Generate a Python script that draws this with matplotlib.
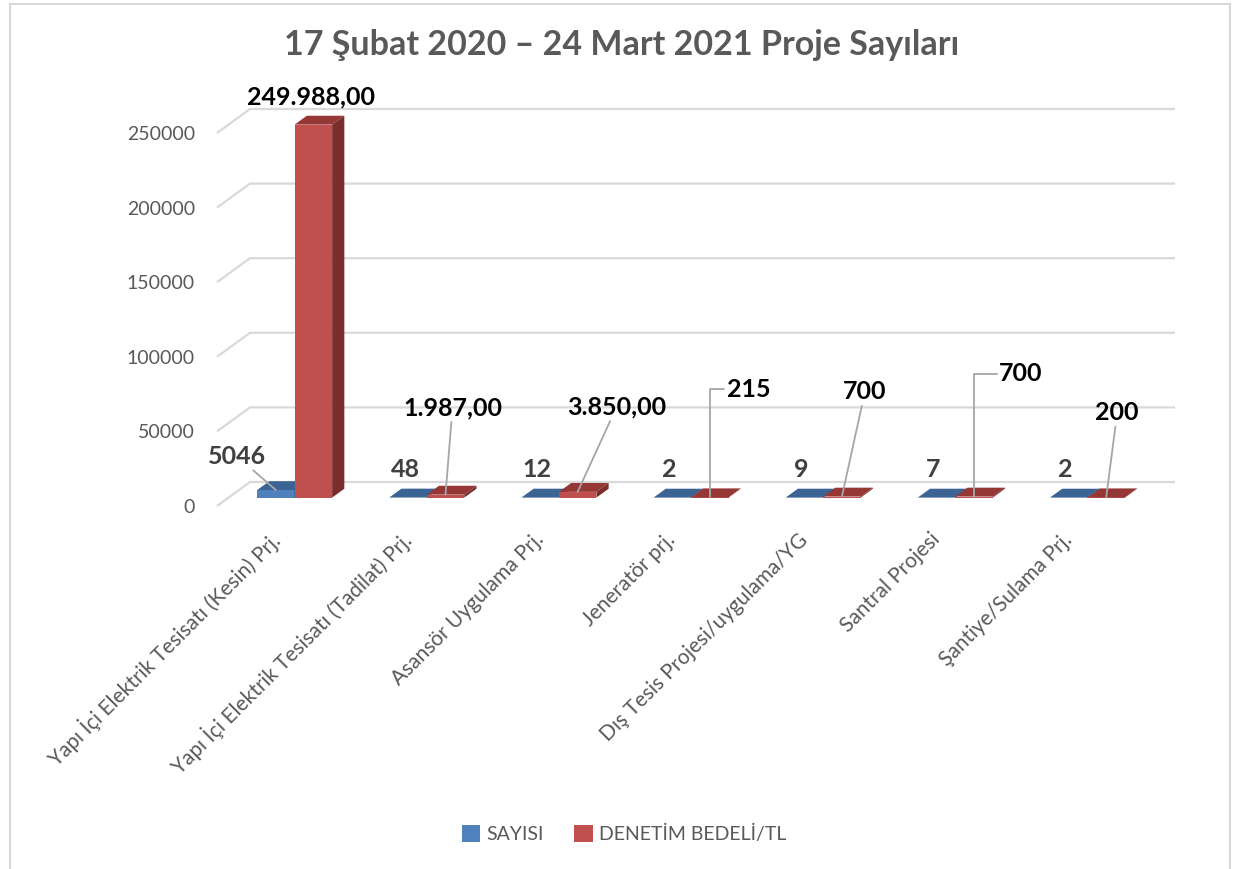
import numpy as np
import matplotlib.pyplot as plt
import matplotlib.transforms as mtransforms
from matplotlib.patches import Polygon, Rectangle, Patch

# Lato is the closest match to Calibri here
plt.rcParams['font.family'] = ['Lato', 'DejaVu Sans']

# data
categories = ['Yapı İçi Elektrik Tesisatı (Kesin) Prj.',
              'Yapı İçi Elektrik Tesisatı (Tadilat) Prj.',
              'Asansör Uygulama Prj.',
              'Jeneratör prj.',
              'Dış Tesis Projesi/uygulama/YG',
              'Santral Projesi',
              'Şantiye/Sulama Prj.']
sayisi = [5046, 48, 12, 2, 9, 7, 2]
denetim = [249988, 1987, 3850, 215, 700, 700, 200]
denetim_text = ['249.988,00', '1.987,00', '3.850,00', '215', '700', '700', '200']
y_ticks = [0, 50000, 100000, 150000, 200000, 250000]

# label placement (pixels, relative to the bar's front top edge)
blue_offsets = [(-39, 34), (-3, 28), (-3, 28), (-3, 28), (-3, 28), (-3, 28), (-3, 28)]
blue_leader = [True, False, False, False, False, False, False]
red_offsets = [(-2, 28), (7, 87), (39, 85), (39, 108), (23, 105), (47, 123), (11, 85)]
red_leader = [None, 'arc3', 'arc3', 'angle,angleA=0,angleB=90,rad=0', 'arc3',
              'angle,angleA=0,angleB=90,rad=0', 'arc3']

W, H = 1233, 869
fig = plt.figure(figsize=(W / 100, H / 100), dpi=100)
fig.patch.set_facecolor('white')

# axes = front edge of the 3d floor
left_px, right_px, top_px, bot_px = 217, 1142, 133, 506
ax = fig.add_axes([left_px / W, 1 - bot_px / H, (right_px - left_px) / W, (bot_px - top_px) / H])
n = len(categories)
ax.set_xlim(-0.5, n - 0.5)
ax.set_ylim(0, y_ticks[-1])
for s in ax.spines.values():
    s.set_visible(False)

px_x = n / (right_px - left_px)          # data units per pixel
px_y = y_ticks[-1] / (bot_px - top_px)
DX, DY = 33 * px_x, 24 * px_y            # depth of the floor
bw = 37.5 * px_x                         # bar width
f0, f1 = 0.35, 0.72                      # bar depth range inside floor

grid_c = '#d9d9d9'
for v in y_ticks:
    ax.plot([-0.5, -0.5 + DX, n - 0.5 + DX], [v, v + DY, v + DY],
            color=grid_c, lw=1.6, clip_on=False, zorder=1, solid_capstyle='butt')


def bar3d(x0, v, front, top, side):
    b, ox = f0 * DY, f0 * DX
    ex, ey = f1 * DX, f1 * DY
    ax.bar(x0 + ox, v, width=bw, bottom=b, align='edge', color=front,
           lw=0, clip_on=False, zorder=3)
    ax.add_patch(Polygon([(x0 + ox, v + b), (x0 + bw + ox, v + b),
                          (x0 + bw + ex, v + ey), (x0 + ex, v + ey)],
                         closed=True, fc=top, ec='none', clip_on=False, zorder=3))
    ax.add_patch(Polygon([(x0 + bw + ox, b), (x0 + bw + ex, ey),
                          (x0 + bw + ex, v + ey), (x0 + bw + ox, v + b)],
                         closed=True, fc=side, ec='none', clip_on=False, zorder=3))


blue = ('#4f81bd', '#3b6394', '#2f507a')
red = ('#c0504d', '#953735', '#7b2d2c')
for i in range(n):
    bar3d(i - bw, sayisi[i], *blue)
    bar3d(i, denetim[i], *red)

lead_c = '#a6a6a6'
for i in range(n):
    # blue labels
    xy = (i - bw / 2 + f0 * DX, sayisi[i] + f0 * DY)
    ap = dict(arrowstyle='-', color=lead_c, lw=1.3, shrinkA=0, shrinkB=0) if blue_leader[i] else None
    ax.annotate(str(sayisi[i]), xy=xy, xytext=blue_offsets[i], textcoords='offset pixels',
                ha='center', va='center', fontsize=18, fontweight='bold', color='#404040',
                arrowprops=ap, annotation_clip=False, zorder=5)
    # red labels
    xy = (i + bw / 2 + f0 * DX, denetim[i] + f0 * DY)
    ap = None
    if red_leader[i]:
        ap = dict(arrowstyle='-', color=lead_c, lw=1.3, shrinkA=0, shrinkB=0,
                  connectionstyle=red_leader[i])
    ax.annotate(denetim_text[i], xy=xy, xytext=red_offsets[i], textcoords='offset pixels',
                ha='center', va='center', fontsize=18, fontweight='bold', color='black',
                arrowprops=ap, annotation_clip=False, zorder=5)

ax.set_yticks(y_ticks)
ax.set_yticklabels([str(v) for v in y_ticks])
ax.tick_params(axis='y', length=0, pad=16, labelsize=14, labelcolor='#595959')
ax.set_xticks(range(n))
ax.set_xticklabels(categories, rotation=45, ha='right', va='center', rotation_mode='anchor')
ax.tick_params(axis='x', length=0, pad=22, labelsize=15, labelcolor='#595959')
shift = mtransforms.ScaledTranslation(-7 / 100, 0, fig.dpi_scale_trans)
for lbl in ax.get_xticklabels():
    lbl.set_transform(lbl.get_transform() + shift)

fig.text(0.504, 1 - 45 / H, '17 Şubat 2020 – 24 Mart 2021 Proje Sayıları',
         ha='center', va='center', fontsize=24.5, fontweight='bold', color='#595959')

handles = [Patch(facecolor=blue[0], label='SAYISI'),
           Patch(facecolor=red[0], label='DENETİM BEDELİ/TL')]
fig.legend(handles=handles, loc='center', bbox_to_anchor=(0.506, 1 - 834 / H), ncol=2,
           frameon=False, fontsize=14, labelcolor='#595959', handlelength=0.95,
           handleheight=0.95, handletextpad=0.3, columnspacing=1.6)

# chart border
fig.add_artist(Rectangle((10 / W, -0.05), (1230 - 10) / W, 1.05 - 4 / H,
                         transform=fig.transFigure, fill=False, ec='#d9d9d9', lw=1.5))

fig.savefig('out.png', dpi=100)
